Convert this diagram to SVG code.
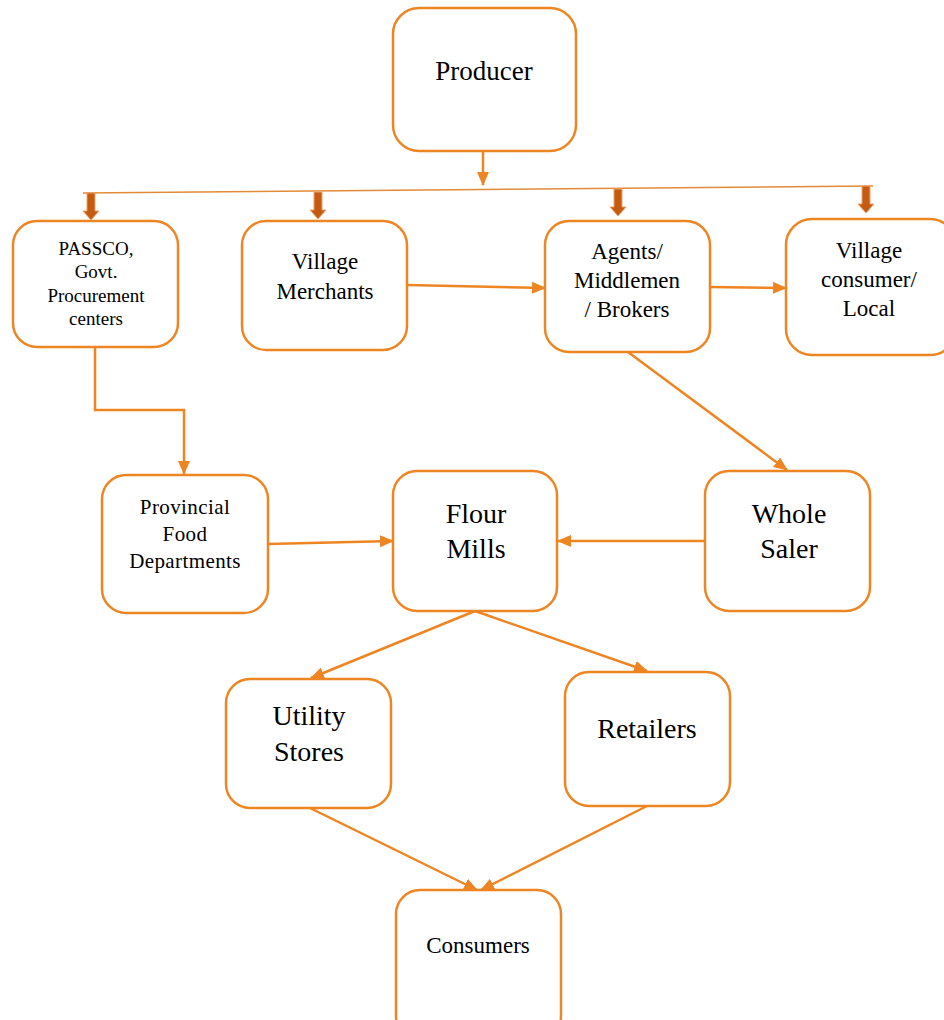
<svg xmlns="http://www.w3.org/2000/svg" width="944" height="1020" viewBox="0 0 944 1020">
<style>
.box{fill:#fff;stroke:#EE8523;stroke-width:2.5}
.t{font-family:"Liberation Serif","Times New Roman",serif;fill:#000;text-anchor:middle}
.c{fill:none;stroke:#EE8523;stroke-width:2.5}
.thin{fill:none;stroke:#E38A3A;stroke-width:1.6}
.blk{fill:#C55A11;stroke:#E9A46A;stroke-width:1}
</style>
<defs>
<marker id="ah" viewBox="0 0 14 12" refX="13" refY="6" markerWidth="14" markerHeight="12" markerUnits="userSpaceOnUse" orient="auto">
<path d="M0,0 L14,6 L0,12 Z" fill="#EE8523"/>
</marker>
</defs>
<g id="connectors">
<line class="c" x1="483" y1="151" x2="483" y2="185" marker-end="url(#ah)"/>
<line class="thin" x1="83" y1="193" x2="873" y2="186"/>
<path class="blk" d="M87,193 h8 v18 h4 l-8,9 l-8,-9 h4 z"/>
<path class="blk" d="M314,192 h8 v18 h4 l-8,9 l-8,-9 h4 z"/>
<path class="blk" d="M614,189 h8 v18 h4 l-8,9 l-8,-9 h4 z"/>
<path class="blk" d="M862,186 h8 v18 h4 l-8,9 l-8,-9 h4 z"/>
<polyline class="c" points="95,347 95,410 184,410 184,474" marker-end="url(#ah)"/>
<line class="c" x1="407" y1="285" x2="545" y2="288" marker-end="url(#ah)"/>
<line class="c" x1="710" y1="287" x2="786" y2="288" marker-end="url(#ah)"/>
<line class="c" x1="628" y1="352" x2="787" y2="470" marker-end="url(#ah)"/>
<line class="c" x1="268" y1="544" x2="393" y2="541" marker-end="url(#ah)"/>
<line class="c" x1="705" y1="541" x2="558" y2="541" marker-end="url(#ah)"/>
<line class="c" x1="475" y1="611" x2="311" y2="678" marker-end="url(#ah)"/>
<line class="c" x1="475" y1="611" x2="647" y2="671" marker-end="url(#ah)"/>
<line class="c" x1="310" y1="808" x2="477" y2="890" marker-end="url(#ah)"/>
<line class="c" x1="647" y1="806" x2="481" y2="890" marker-end="url(#ah)"/>
</g>
<g id="producer"><rect class="box" x="393" y="8" width="183" height="143" rx="26"/><text class="t" x="484" y="80" font-size="27">Producer</text></g>
<g id="passco"><rect class="box" x="13" y="221" width="165" height="126" rx="24"/><text class="t" font-size="19"><tspan x="96" y="255">PASSCO,</tspan><tspan x="96" y="278">Govt.</tspan><tspan x="96" y="302">Procurement</tspan><tspan x="96" y="325">centers</tspan></text></g>
<g id="village-merchants"><rect class="box" x="242" y="221" width="165" height="129" rx="24"/><text class="t" font-size="23"><tspan x="325" y="269">Village</tspan><tspan x="325" y="299">Merchants</tspan></text></g>
<g id="agents"><rect class="box" x="545" y="221" width="165" height="131" rx="24"/><text class="t" font-size="23"><tspan x="627" y="259">Agents/</tspan><tspan x="627" y="288">Middlemen</tspan><tspan x="627" y="317">/ Brokers</tspan></text></g>
<g id="village-consumer"><rect class="box" x="786" y="219" width="170" height="136" rx="26"/><text class="t" font-size="23"><tspan x="869" y="258">Village</tspan><tspan x="869" y="287">consumer/</tspan><tspan x="869" y="316">Local</tspan></text></g>
<g id="provincial"><rect class="box" x="102" y="475" width="166" height="138" rx="24"/><text class="t" font-size="21" letter-spacing="0.4"><tspan x="185" y="514">Provincial</tspan><tspan x="185" y="541">Food</tspan><tspan x="185" y="568">Departments</tspan></text></g>
<g id="flour-mills"><rect class="box" x="393" y="471" width="164" height="140" rx="24"/><text class="t" font-size="28"><tspan x="476" y="523">Flour</tspan><tspan x="476" y="558">Mills</tspan></text></g>
<g id="whole-saler"><rect class="box" x="705" y="471" width="165" height="140" rx="24"/><text class="t" font-size="28"><tspan x="789" y="523">Whole</tspan><tspan x="789" y="558">Saler</tspan></text></g>
<g id="utility-stores"><rect class="box" x="226" y="679" width="165" height="129" rx="24"/><text class="t" font-size="28"><tspan x="309" y="725">Utility</tspan><tspan x="309" y="761">Stores</tspan></text></g>
<g id="retailers"><rect class="box" x="565" y="672" width="165" height="134" rx="24"/><text class="t" font-size="28"><tspan x="647" y="738">Retailers</tspan></text></g>
<g id="consumers"><rect class="box" x="396" y="890" width="165" height="150" rx="24"/><text class="t" font-size="23"><tspan x="478" y="953">Consumers</tspan></text></g>
</svg>
